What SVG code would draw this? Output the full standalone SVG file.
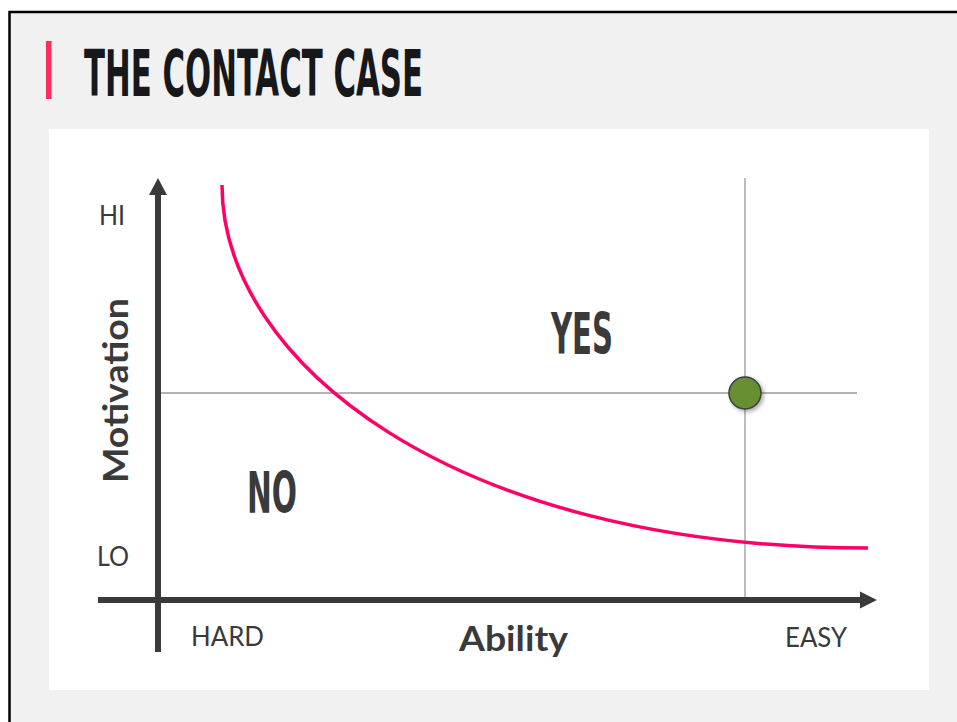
<svg xmlns="http://www.w3.org/2000/svg" width="957" height="722" viewBox="0 0 957 722">
<style>
.lbl{font-family:Lato,"Liberation Sans",sans-serif;fill:#3a3a3a}
.small{font-size:26px}
.axisname{font-size:34px;font-weight:bold}
.cond{font-family:"Liberation Sans Narrow","DejaVu Sans Condensed","DejaVu Sans",sans-serif;font-weight:bold;font-stretch:condensed}
.axis{stroke:#3a3a3a;stroke-width:6;fill:none}
.guide{stroke:#9a9a9a;stroke-width:1.3;fill:none}
</style>
<defs>
<filter id="shadow" x="-50%" y="-50%" width="200%" height="200%">
<feDropShadow dx="2" dy="2" stdDeviation="2" flood-color="#000" flood-opacity="0.35"/>
</filter>
</defs>
<rect width="957" height="722" fill="#ffffff"/>
<rect x="9.5" y="12" width="960" height="720" fill="#f1f1f1" stroke="#000" stroke-width="2.5"/>
<rect x="46" y="41" width="5.5" height="58" fill="#ff2d5f"/>
<text x="84" y="96" class="cond" font-size="64" fill="#16181b" textLength="339" lengthAdjust="spacingAndGlyphs">THE CONTACT CASE</text>
<rect x="49" y="129" width="880" height="561" fill="#ffffff"/>
<g id="guides">
<line class="guide" x1="745" y1="178" x2="745" y2="600"/>
<line class="guide" x1="160" y1="393" x2="857" y2="393"/>
</g>
<g id="connectors">
<line class="axis" x1="158" y1="652" x2="158" y2="192"/>
<polygon points="158,178 149,195 167,195" fill="#3a3a3a"/>
<line class="axis" x1="98" y1="600" x2="862" y2="600"/>
<polygon points="877,600 860,591.5 860,608.5" fill="#3a3a3a"/>
<path d="M222,185 C222,360 450,548 868,548" fill="none" stroke="#ff0066" stroke-width="3.5"/>
</g>
<g id="point">
<circle cx="745" cy="393" r="16" fill="#669030" stroke="#3d3d3d" stroke-width="1.5" filter="url(#shadow)"/>
</g>
<g id="labels">
<text x="99" y="225" class="lbl small" textLength="26" lengthAdjust="spacingAndGlyphs">HI</text>
<text x="97" y="566" class="lbl small" textLength="32" lengthAdjust="spacingAndGlyphs">LO</text>
<text x="191" y="646" class="lbl small" textLength="73" lengthAdjust="spacingAndGlyphs">HARD</text>
<text x="785" y="647" class="lbl small" textLength="62" lengthAdjust="spacingAndGlyphs">EASY</text>
<text x="459" y="651" class="lbl axisname" textLength="109" lengthAdjust="spacingAndGlyphs">Ability</text>
<text transform="translate(128,483) rotate(-90)" class="lbl axisname" textLength="185" lengthAdjust="spacingAndGlyphs">Motivation</text>
<text x="247" y="513" class="cond" font-size="57" fill="#3a3a3a" textLength="50" lengthAdjust="spacingAndGlyphs">NO</text>
<text x="551" y="354" class="cond" font-size="57" fill="#3a3a3a" textLength="62" lengthAdjust="spacingAndGlyphs">YES</text>
</g>
</svg>
